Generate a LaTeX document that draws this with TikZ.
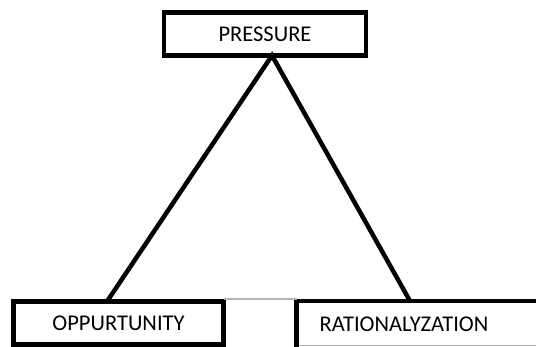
\documentclass[tikz,border=0pt]{standalone}
\usepackage{fontspec}
\setmainfont{Carlito}
\usetikzlibrary{positioning,calc}

\tikzset{
  boxnode/.style={draw, line width=4.5pt, rectangle, inner sep=0pt, outer sep=0pt, font=\fontsize{22.5}{26}\selectfont},
  labelnode/.style={inner sep=0pt, font=\fontsize{22.5}{26}\selectfont},
  sideline/.style={line width=4.5pt},
  thinline/.style={line width=1.2pt, black!30},
}

\begin{document}
\begin{tikzpicture}[x=1pt,y=1pt,yscale=-1,xscale=1]
  \useasboundingbox (0,0) rectangle (536,347);

  % Boxes
  \node [boxnode, minimum width=202pt, minimum height=43pt] (pressure) at (265,34) {PRESSURE};
  \node [boxnode, minimum width=210pt, minimum height=43pt] (opp) at (118.5,323) {OPPURTUNITY};
  % right box runs off the page
  \node [labelnode] (ratio) at (404,324) {RATIONALYZATION};
  \coordinate (ratioNW) at (296.5,301);
  \coordinate (ratioNE) at (540,301);
  \coordinate (ratioSW) at (296.5,360);

  % edges of the right box
  \draw [thinline] (ratioNW |- 0,345.5) -- (540,345.5);
  \draw [sideline, line cap=rect] (ratioSW) -- (ratioNW) -- (ratioNE);
  \draw [thinline] (opp.east |- 0,299) -- (ratioNW |- 0,299);

  % Triangle
  \coordinate (apex) at ([xshift=7pt]pressure.south);
  \coordinate (baseL) at ([xshift=-11.5pt]opp.north);
  \coordinate (baseR) at (410,301);
  \draw [sideline, line join=miter] (baseL) -- (apex) -- (baseR);

\end{tikzpicture}
\end{document}
